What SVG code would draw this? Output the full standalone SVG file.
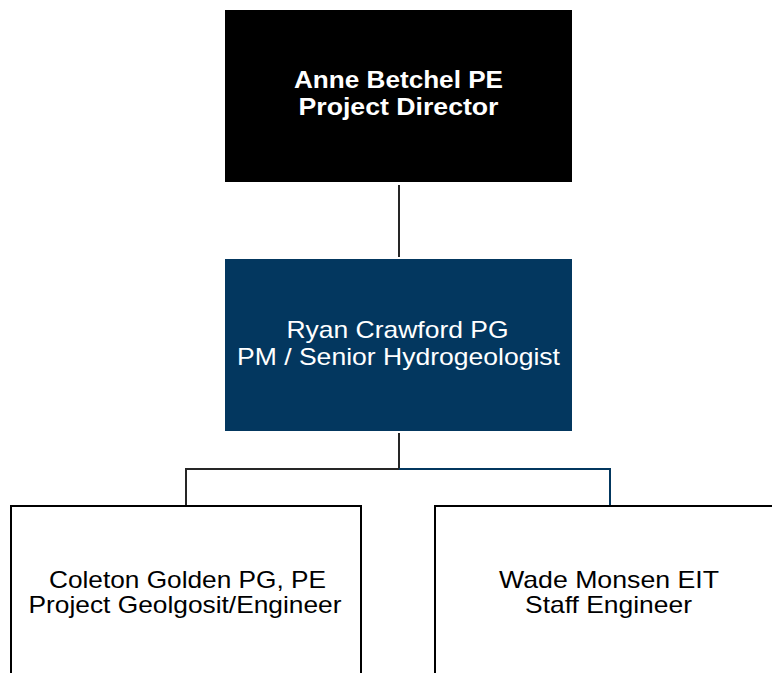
<svg xmlns="http://www.w3.org/2000/svg" width="772" height="673" viewBox="0 0 772 673">
<style>
text{font-family:"Liberation Sans",Arial,sans-serif;font-size:24px;text-anchor:middle}
.w{fill:#fff}
.b{font-weight:bold;font-size:23px}
.k{fill:#000}
.box{fill:#fff;stroke:#000;stroke-width:2}
.ln{fill:none;stroke:#262626;stroke-width:2}
</style>
<rect width="772" height="673" fill="#fff"/>
<g id="connectors">
<line class="ln" x1="399" y1="185" x2="399" y2="257"/>
<line class="ln" x1="399" y1="433" x2="399" y2="469"/>
<polyline class="ln" points="399,469 186,469 186,505"/>
<polyline class="ln" points="399,469 610,469 610,505" style="stroke:#03375f"/>
</g>
<g id="director">
<rect x="225" y="10" width="347" height="172" fill="#000"/>
<text class="w b" x="398.5" y="88" textLength="209" lengthAdjust="spacingAndGlyphs">Anne Betchel PE</text>
<text class="w b" x="398.5" y="115" textLength="200" lengthAdjust="spacingAndGlyphs">Project Director</text>
</g>
<g id="pm">
<rect x="225" y="259" width="347" height="172" fill="#03375f"/>
<text class="w" x="397.5" y="338" textLength="222" lengthAdjust="spacingAndGlyphs">Ryan Crawford PG</text>
<text class="w" x="398.5" y="365" textLength="323" lengthAdjust="spacingAndGlyphs">PM / Senior Hydrogeologist</text>
</g>
<g id="coleton">
<rect class="box" x="11" y="506" width="350" height="180"/>
<text class="k" x="187.5" y="588" textLength="277" lengthAdjust="spacingAndGlyphs">Coleton Golden PG, PE</text>
<text class="k" x="185" y="613" textLength="313" lengthAdjust="spacingAndGlyphs">Project Geolgosit/Engineer</text>
</g>
<g id="wade">
<rect class="box" x="435" y="506" width="350" height="180"/>
<text class="k" x="609" y="588" textLength="220" lengthAdjust="spacingAndGlyphs">Wade Monsen EIT</text>
<text class="k" x="608.5" y="613" textLength="167" lengthAdjust="spacingAndGlyphs">Staff Engineer</text>
</g>
</svg>
